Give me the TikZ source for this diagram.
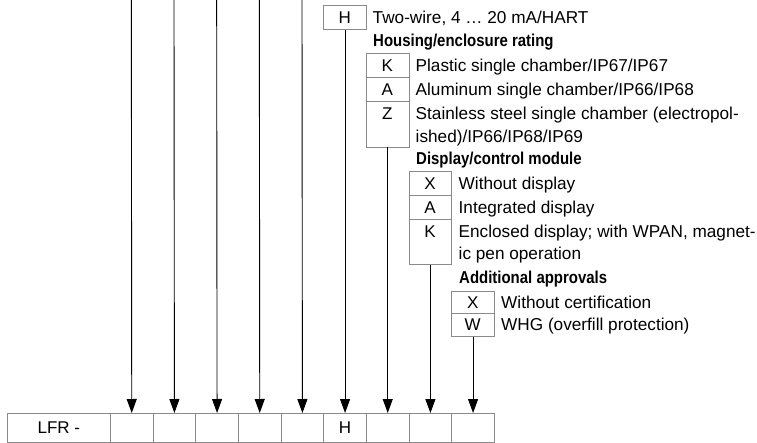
\documentclass[tikz,border=0pt]{standalone}
\usepackage{fontspec}
\setmainfont{Liberation Sans}
\newfontfamily\headfont{Liberation Sans}[FakeStretch=0.87]
\usetikzlibrary{arrows.meta}
\definecolor{boxgray}{HTML}{8A8A8A}
\begin{document}
\begin{tikzpicture}[x=1pt,y=-1pt,
  cellbox/.style={draw=boxgray, line width=0.8pt, minimum width=42.67pt, minimum height=28.5pt, inner sep=0pt, anchor=north west, font=\fontsize{17}{20}\selectfont},
  optbox/.style={draw=boxgray, line width=0.8pt, minimum width=42.67pt, inner sep=0pt, anchor=north west},
  letter/.style={anchor=base, inner sep=0pt, font=\fontsize{17}{20}\selectfont},
  desc/.style={anchor=base west, inner sep=0pt, font=\fontsize{17.2}{20}\selectfont},
  head/.style={anchor=base west, inner sep=0pt, font=\headfont\fontsize{17.2}{20}\selectfont\bfseries},
  conn/.style={draw=black, line width=0.9pt, -{Triangle[length=14pt,width=10pt]}}
]
\useasboundingbox (0,0) rectangle (757,443);

% bottom row
\node[cellbox, minimum width=103pt] (c0) at (7,413) {LFR -};
\node[cellbox] (c1) at (110,413) {};
\node[cellbox] (c2) at (152.67,413) {};
\node[cellbox] (c3) at (195.33,413) {};
\node[cellbox] (c4) at (238,413) {};
\node[cellbox] (c5) at (280.67,413) {};
\node[cellbox] (c6) at (323.33,413) {H};
\node[cellbox] (c7) at (366,413) {};
\node[cellbox] (c8) at (408.67,413) {};
\node[cellbox] (c9) at (451.33,413) {};

% top free ends
\coordinate (t1) at (131.33,-2);
\coordinate (t2) at (174,-2);
\coordinate (t3) at (216.67,-2);
\coordinate (t4) at (259.33,-2);
\coordinate (t5) at (302,-2);

% H box
\node[optbox, minimum height=24.3pt] (hbox) at (323.33,5) {};
\node[letter] (hl) at (344.67,23.3) {H};
\node[desc] (hd) at (372.5,23.3) {Two-wire, 4 … 20 mA/HART};
\node[head] (hh) at (373,47) {Housing/enclosure rating};

% Housing box
\node[optbox, minimum height=24pt] (k1) at (366,53.3) {};
\node[optbox, minimum height=24.2pt] (k2) at (366,77.3) {};
\node[optbox, minimum height=45.2pt] (k3) at (366,101.5) {};
\node[letter] (k1l) at (387.33,71.4) {K};
\node[letter] (k2l) at (387.33,95.5) {A};
\node[letter] (k3l) at (387.33,119.6) {Z};
\node[desc] (k1d) at (415.5,71.4) {Plastic single chamber/IP67/IP67};
\node[desc] (k2d) at (415.5,95.5) {Aluminum single chamber/IP66/IP68};
\node[desc] (k3d) at (415.5,119.6) {Stainless steel single chamber (electropol-};
\node[desc] (k3e) at (415.5,142.1) {ished)/IP66/IP68/IP69};
\node[head] (kh) at (416,165) {Display/control module};

% Display box
\node[optbox, minimum height=24.5pt] (d1) at (408.67,171) {};
\node[optbox, minimum height=23.8pt] (d2) at (408.67,195.5) {};
\node[optbox, minimum height=45pt] (d3) at (408.67,219.3) {};
\node[letter] (d1l) at (430,189.3) {X};
\node[letter] (d2l) at (430,213.5) {A};
\node[letter] (d3l) at (430,237.5) {K};
\node[desc] (d1d) at (458.5,189.3) {Without display};
\node[desc] (d2d) at (458.5,213.5) {Integrated display};
\node[desc] (d3d) at (458.5,237.5) {Enclosed display; with WPAN, magnet-};
\node[desc] (d3e) at (458.5,260) {ic pen operation};
\node[head] (dh) at (459,283.5) {Additional approvals};

% Approvals box
\node[optbox, minimum height=22.5pt] (a1) at (451.33,291) {};
\node[optbox, minimum height=22.5pt] (a2) at (451.33,313.5) {};
\node[letter] (a1l) at (472.67,308.3) {X};
\node[letter] (a2l) at (472.67,330.9) {W};
\node[desc] (a1d) at (501,308.3) {Without certification};
\node[desc] (a2d) at (501,330.9) {WHG (overfill protection)};

% connectors
\draw[conn] (t1) -- (c1.north);
\draw[conn] (t2) -- (c2.north);
\draw[conn] (t3) -- (c3.north);
\draw[conn] (t4) -- (c4.north);
\draw[conn] (t5) -- (c5.north);
\draw[conn] (hbox.south) -- (c6.north);
\draw[conn] (k3.south) -- (c7.north);
\draw[conn] (d3.south) -- (c8.north);
\draw[conn] (a2.south) -- (c9.north);
\end{tikzpicture}
\end{document}
